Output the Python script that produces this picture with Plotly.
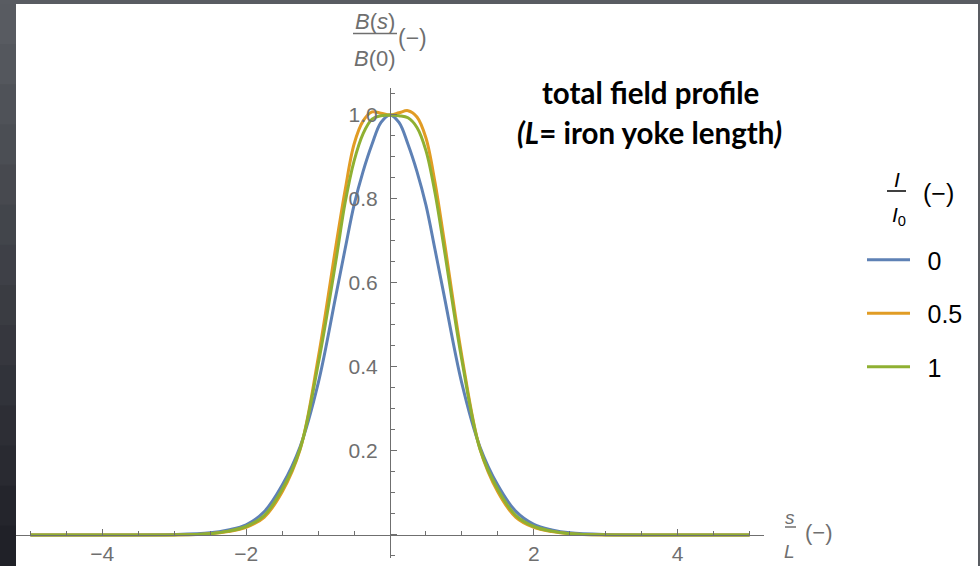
import plotly.graph_objects as go

# ---- data ----
s_over_L = [-5, -4, -3, -2.5, -2.25, -2, -1.75, -1.5, -1.25, -1, -0.75, -0.625, -0.5, -0.375, -0.25, -0.125,
            0, 0.125, 0.25, 0.375, 0.5, 0.625, 0.75, 1, 1.25, 1.5, 1.75, 2, 2.25, 2.5, 3, 4, 5]
field_I0 = [0, 0, 0.001, 0.005, 0.012, 0.024, 0.055, 0.118, 0.21, 0.36, 0.572, 0.68, 0.785, 0.865, 0.93, 0.982,
            1.0, 0.982, 0.93, 0.865, 0.785, 0.68, 0.572, 0.36, 0.21, 0.118, 0.056, 0.025, 0.012, 0.005, 0.001, 0, 0]
field_I05 = [0, 0, 0, 0.003, 0.008, 0.018, 0.042, 0.102, 0.203, 0.42, 0.69, 0.82, 0.93, 0.985, 1.007, 1.004,
             1.0, 1.005, 1.01, 0.995, 0.945, 0.84, 0.705, 0.425, 0.205, 0.102, 0.042, 0.018, 0.008, 0.003, 0, 0, 0]
field_I1 = [0, 0, 0, 0.003, 0.009, 0.02, 0.046, 0.108, 0.205, 0.405, 0.655, 0.79, 0.89, 0.955, 0.99, 0.998,
            1.0, 0.998, 0.993, 0.97, 0.915, 0.815, 0.685, 0.415, 0.205, 0.108, 0.046, 0.02, 0.009, 0.003, 0, 0, 0]
legend_labels = ["0", "0.5", "1"]
series = [field_I0, field_I05, field_I1]
colors = ["#5E81B5", "#E19C24", "#8FB032"]

# ---- layout geometry (pixels) ----
W, H = 980, 566
ML, MR, MT, MB = 16, 216, 88, 8
PW, PH = W - ML - MR, H - MT - MB
XR = [-5.2, 5.2]
YR = [-0.055, 1.064]


def px(x):
    return (x - ML) / PW


def py(y):
    return (H - MB - y) / PH


fig = go.Figure()
for name, vals, col in zip(legend_labels, series, colors):
    fig.add_trace(go.Scatter(x=s_over_L, y=vals, mode="lines", name="\u2002" + name,
                             legendgroup=name,
                             line=dict(color=col, width=3, shape="spline", smoothing=1)))

axis_gray = "#6f6f6f"
shapes = []
# notebook frame: white page area
shapes.append(dict(type="rect", xref="paper", yref="paper", x0=px(16), x1=px(978), y0=py(567), y1=py(4),
                   fillcolor="white", line=dict(width=0), layer="below"))
# left gradient band
n = 14
c0 = (0x58, 0x5b, 0x61)
c1 = (0x20, 0x21, 0x28)
for i in range(n):
    t = i / (n - 1)
    c = tuple(int(round(a + (b - a) * t)) for a, b in zip(c0, c1))
    y0 = 4 + (H - 4) * i / n
    y1 = 4 + (H - 4) * (i + 1) / n
    shapes.append(dict(type="rect", xref="paper", yref="paper", x0=px(0), x1=px(16),
                       y0=py(y1 + 1), y1=py(y0), fillcolor="rgb(%d,%d,%d)" % c,
                       line=dict(width=0), layer="below"))

# fraction bars for axis labels / legend title
shapes.append(dict(type="line", xref="paper", yref="paper", x0=px(353), x1=px(397), y0=py(33.5), y1=py(33.5),
                   line=dict(color=axis_gray, width=1.5)))
shapes.append(dict(type="line", xref="paper", yref="paper", x0=px(785), x1=px(796), y0=py(527), y1=py(527),
                   line=dict(color=axis_gray, width=1.5)))
shapes.append(dict(type="line", xref="paper", yref="paper", x0=px(887), x1=px(906), y0=py(191), y1=py(191),
                   line=dict(color="black", width=1.5)))

ann = []


def add_text(text, x, y, size, color, family="Liberation Sans, Arial, sans-serif"):
    ann.append(dict(text=text, xref="paper", yref="paper", x=px(x), y=py(y), showarrow=False,
                    xanchor="center", yanchor="middle", font=dict(size=size, color=color, family=family)))


add_text("<i>B</i>(<i>s</i>)", 375, 21, 22, axis_gray)
add_text("<i>B</i>(0)", 375, 58, 22, axis_gray)
add_text("(−)", 412, 38, 23, axis_gray)
add_text("<i>s</i>", 790, 517, 19, axis_gray)
add_text("<i>L</i>", 790, 551, 19, axis_gray)
add_text("(−)", 819, 532, 22, axis_gray)
add_text("<i>I</i>", 897, 180, 21, "black")
add_text("<i>I</i><sub>0</sub>", 899, 216, 21, "black")
add_text("(−)", 938, 193, 25, "black")
add_text("<b>total field profile</b>", 650, 93, 29.5, "black", "Lato, Open Sans, sans-serif")
add_text("<b><i>(L</i>= iron yoke length<i>)</i></b>", 649, 132, 29.5, "black", "Lato, Open Sans, sans-serif")

tickfont = dict(family="Liberation Sans, Arial, sans-serif", size=21, color=axis_gray)

fig.update_layout(
    width=W, height=H,
    margin=dict(l=ML, r=MR, t=MT, b=MB, autoexpand=False),
    paper_bgcolor="#595c62",
    plot_bgcolor="white",
    shapes=shapes,
    annotations=ann,
    showlegend=True,
    legend=dict(x=px(862), y=py(237), xanchor="left", yanchor="top",
                font=dict(family="Liberation Sans, Arial, sans-serif", size=25, color="black"),
                bgcolor="rgba(0,0,0,0)", itemwidth=43, tracegroupgap=18),
    xaxis=dict(range=XR, anchor="free", position=(0 - YR[0]) / (YR[1] - YR[0]), automargin=False,
               showgrid=False, zeroline=False, showline=True, linecolor=axis_gray, linewidth=1,
               ticks="inside", ticklen=6, tickcolor=axis_gray, tick0=0, dtick=2,
               labelalias={"0": ""}, tickfont=tickfont, ticklabelstandoff=0,
               minor=dict(dtick=0.5, ticks="inside", ticklen=4, tickcolor=axis_gray)),
    yaxis=dict(range=YR, anchor="free", position=(0 - XR[0]) / (XR[1] - XR[0]), automargin=False,
               showgrid=False, zeroline=False, showline=True, linecolor=axis_gray, linewidth=1,
               ticks="inside", ticklen=6, tickcolor=axis_gray, tick0=0, dtick=0.2, tickformat=".1f",
               labelalias={"0.0": ""}, tickfont=tickfont, ticklabelstandoff=8,
               minor=dict(dtick=0.05, ticks="inside", ticklen=4, tickcolor=axis_gray)),
)

fig.write_html("out.html", config={"displayModeBar": False},
               post_script=["document.body.style.margin='0px';document.body.style.overflow='hidden';"])
